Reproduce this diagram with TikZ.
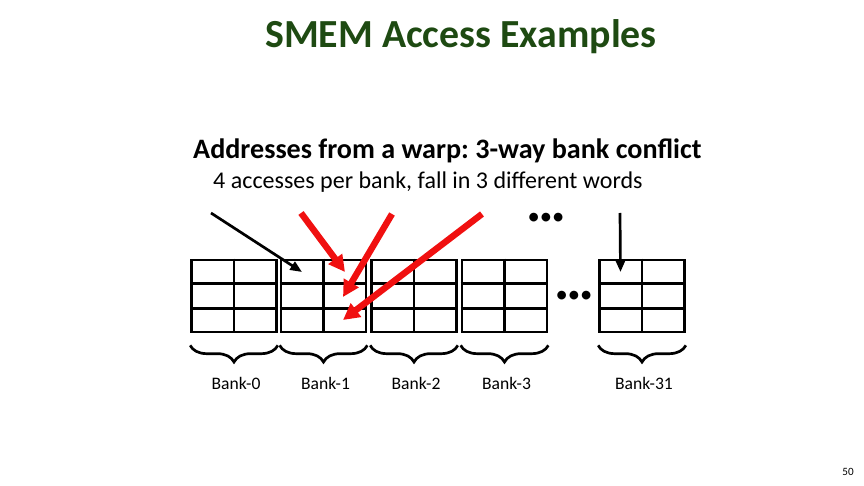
\documentclass[tikz,border=0pt]{standalone}
\usepackage{fontspec}
\setmainfont{Carlito}
\usetikzlibrary{arrows.meta,calc,decorations.pathreplacing}
\definecolor{titlegreen}{HTML}{1E4A12}
\definecolor{hitred}{HTML}{F01010}
\frenchspacing

\begin{document}
\begin{tikzpicture}[x=0.03cm, y=-0.03cm,
    bankbox/.style={draw, line width=2.3pt, minimum width=2.55cm, minimum height=2.16cm, inner sep=0pt},
    gridline/.style={line width=2.3pt},
    bankbrace/.style={decorate, decoration={brace, mirror, amplitude=0.5cm}, line width=2.3pt},
    banklabel/.style={font=\fontsize{15}{17}\selectfont, inner sep=0pt},
    access/.style={-{Triangle[length=10pt, width=8pt]}, line width=2.3pt},
    conflict/.style={-{Triangle[length=14pt, width=14pt]}, line width=5.5pt, color=hitred},
    moredots/.style={font=\fontsize{21}{21}\selectfont, inner sep=0pt},
]
\useasboundingbox (0,0) rectangle (864,486);

\node[font=\fontsize{34}{36}\selectfont\bfseries, text=titlegreen] (title) at (461,37) {SMEM Access Examples};
\node[font=\fontsize{24}{26}\selectfont\bfseries, anchor=west, inner sep=0pt] (head) at (193,151) {Addresses from a warp: 3-way bank conflict};
\node[font=\fontsize{20.5}{22}\selectfont, anchor=west, inner sep=0pt] (sub) at (213,182) {4 accesses per bank, fall in 3 different words};

\foreach \n/\x in {0/234, 1/323.5, 2/414, 3/504.5, 31/642} {
  \node[bankbox] (bank\n) at (\x,296) {};
  \draw[gridline] (bank\n.north) -- (bank\n.south);
  \draw[gridline] ($(bank\n.north west)!1/3!(bank\n.south west)$) -- ($(bank\n.north east)!1/3!(bank\n.south east)$);
  \draw[gridline] ($(bank\n.north west)!2/3!(bank\n.south west)$) -- ($(bank\n.north east)!2/3!(bank\n.south east)$);
  \foreach \r in {1,2,3}
    \foreach \c in {1,2}
      \coordinate (b\n-\r\c) at (\x-64.5+43*\c, 248+24*\r);
  \draw[bankbrace] ($(bank\n.south west)+(0,12)$) -- ($(bank\n.south east)+(0,12)$);
  \node[banklabel] (lab\n) at ($(bank\n.south)+(2,50)$) {Bank-\n};
}

\node[moredots] (dotsA) at (546,219) {•••};
\node[moredots] (dotsB) at (574,297) {•••};

\coordinate (src0) at (211,213);
\coordinate (src1) at (301,213);
\coordinate (src2) at (392,214);
\coordinate (src3) at (482,214);
\coordinate (src31) at (620,213);

\draw[access] (src0) -- (b1-11);
\draw[access] (src31) -- (b31-11);
\draw[conflict] (src1) -- (b1-12);
\draw[conflict] (src2) -- ($(b1-22)+(-2,1)$);
\draw[conflict] (src3) -- ($(b1-32)+(-2,0)$);

\node[font=\fontsize{9.5}{10}\selectfont] (page) at (848,472) {50};
\end{tikzpicture}
\end{document}
